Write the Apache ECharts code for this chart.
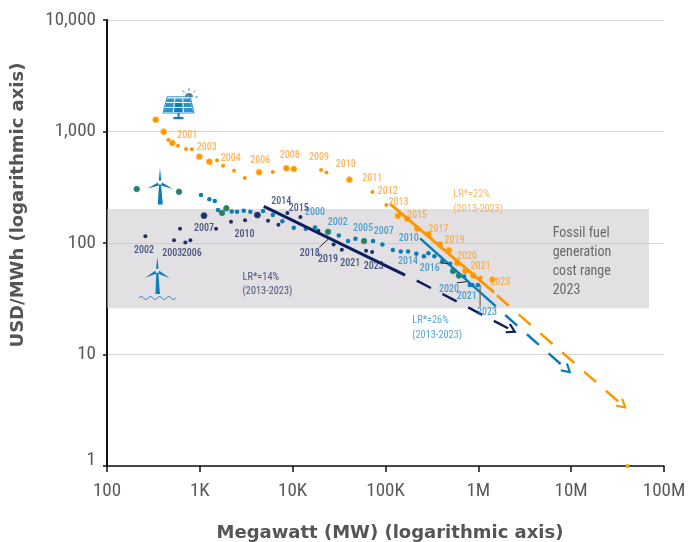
<!DOCTYPE html>
<html><head><meta charset="utf-8">
<style>html,body{margin:0;padding:0;background:#fff}#c{width:689px;height:542px}</style>
<script src="https://cdn.jsdelivr.net/npm/echarts@6/dist/echarts.min.js"></script>
</head><body><div id="c"></div>
<script>
const xTickLabels = {100:'100',1000:'1K',10000:'10K',100000:'100K',1000000:'1M',10000000:'10M',100000000:'100M'};
const yTickLabels = {1:'1',10:'10',100:'100',1000:'1,000',10000:'10,000'};
const fossilRange = [26, 202];

const solarLarge = [[335,1276],[408,995],[506,789],[988,594],[1265,536],[4345,431],[8551,468],[10280,461],[40830,370],[136000,175],[171000,165],[219000,134],[290000,120],[385000,97],[484000,86],[592000,66],[721000,56],[879000,51],[1419000,47]];
const solarSmall = [[458,839],[582,746],[710,697],[818,692],[1532,552],[1778,493],[2338,445],[3048,383],[6109,433],[20230,452],[23070,428],[72280,286],[102000,219],[1064000,49],[40450000,1]];
const onshore = [[1030,269],[1265,247],[1449,238],[1570,198],[2207,192],[2518,191],[2972,195],[3499,191],[4797,194],[6109,178],[7745,157],[10280,137],[13840,134],[17420,138],[31400,117],[39540,104],[47420,109],[73450,104],[92680,97],[120000,86.5],[146000,84],[175000,84],[215000,80],[259000,76],[290000,81],[336000,76],[410000,69],[497000,65],[703000,50],[809000,42],[863000,42],[988000,42]];
const onshoreGreen = [[209,305],[597,288],[1734,186],[1932,205],[24050,126],[58750,104],[535000,56],[617000,51]];
const offshoreLarge = [[1109,176],[4169,178]];
const offshoreSmall = [[259,115],[527,106],[612,134],[698,101],[791,106],[1496,134],[2168,155],[3069,160],[5433,158],[7015,146],[8770,186],[12100,171],[18920,129],[27610,97],[33880,87],[61800,85],[71780,83]];

const navySolid = [[4887,213],[162600,51.6]];
const navyDash = [[217000,46],[2300000,16.5]];
const orangeSolid = [[112000,224],[1479000,36]];
const orangeDash = [[1581000,34],[35900000,3.5]];
const blueSolid = [[236000,110],[1545000,27]];
const blueDash = [[1945000,22.6],[9100000,7.26]];
const connectors = [
  [[19400,91.5],[24050,108]],
  [[381000,66.5],[476000,65]],
  [[586000,44],[752000,45]]
];
const greyConnector = [[1045000,42],[1045000,27]];

const solarLabels = [['2001',733,930],['2003',1186,721],['2004',2153,575],['2006',4487,555],['2008',9310,615],['2009',19240,590],['2010',37330,501],['2011',71780,380],['2012',106000,292],['2013',138000,233],['2015',219000,175],['2017',372000,133],['2019',553000,106],['2020',757000,76],['2021',1054000,61],['2023',1718000,44]];
const onshoreLabels = [['2000',17420,186],['2002',30600,153],['2005',57400,136],['2007',95900,128],['2010',178000,110],['2014',175000,68.5],['2016',300000,58.5],['2020',484000,38.6],['2021',752000,32.8],['2023',1236000,23.6]];
const offshoreLabels = [['2002',250,86.5],['2003',506,81],['2006',818,80],['2007',1109,134],['2010',3020,120],['2014',7550,238],['2015',11640,202],['2018',15280,81],['2019',24050,70.5],['2021',41590,65],['2023',74820,62]];
const noteSolar = ['LR*=22%\n(2013-2023)',531000,233];
const noteOnshore = ['LR*=26%\n(2013-2023)',192000,17.2];
const noteOffshore = ['LR*=14%\n(2013-2023)',2851,42.7];
const noteFossil = ['Fossil fuel\ngeneration\ncost range\n2023',6240000,68];

const ORANGE='#ff9500', BLUE='#0a7cb8', NAVY='#0b1f5e', GREEN='#3a7d44';
const NARROW='Roboto,"Liberation Sans",sans-serif';
const STRETCH='condensed';
const chev2='path://M1.5 0 L10 5 L1.5 10 L0.3 8.4 L6.2 5 L0.3 1.6 Z';

function dots(data,color,size,border){
  return {type:'scatter',data,symbol:'circle',symbolSize:size,silent:true,z:4,
    itemStyle:{color,opacity:1,borderColor:border||color,borderWidth:border?1:0}};
}
function texts(list,color,size,opts){
  opts=opts||{};
  return {type:'scatter',symbol:'circle',symbolSize:1,silent:true,z:6,
    itemStyle:{color:'rgba(0,0,0,0)'},
    data:list.map(l=>({name:l[0],value:[l[1],l[2]]})),
    label:{show:true,position:opts.left?'right':'inside',distance:0,formatter:p=>p.name,color,
      fontFamily:NARROW,fontWeight:opts.weight||STRETCH,fontSize:size,lineHeight:opts.lh||13,align:opts.left?'left':'center'}};
}
function seg(data,color,width,dash,z){
  return {type:'line',data,symbol:'none',silent:true,z:z||5,animation:false,
    lineStyle:{color,width,type:dash?[16,13]:'solid',cap:'butt'}};
}
function dashArrow(data,color,width,rot){
  const s=seg(data,color,width,true);
  s.data=[{value:data[0],symbol:'none'},{value:data[1],symbol:chev2,symbolSize:11,symbolRotate:rot,symbolKeepAspect:true,itemStyle:{color,opacity:1}}];
  s.showSymbol=true; s.showAllSymbol=true; s.symbol='none';
  return s;
}

const YEAR={weight:'500 condensed'};
const series=[
  {type:'scatter',data:[],silent:true,z:1,markArea:{silent:true,itemStyle:{color:'rgba(200,196,200,0.52)'},
    data:[[{coord:[100,fossilRange[1]]},{coord:[69000000,fossilRange[0]]}]]}},
  dots(solarLarge,ORANGE,6,'#ffc04d'),
  dots(solarSmall,ORANGE,4),
  dots(onshore,BLUE,4.5),
  dots(onshoreGreen,GREEN,5.5,'#1f8fa8'),
  dots(offshoreSmall,'#1c2f66',4),
  dots(offshoreLarge,'#1c2f66',6,'#3a5590'),
  seg(navySolid,NAVY,3),
  dashArrow(navyDash,NAVY,2.5,-27),
  seg(orangeSolid,ORANGE,3),
  dashArrow(orangeDash,ORANGE,2.5,-41),
  seg(blueSolid,BLUE,2.5),
  dashArrow(blueDash,BLUE,2.5,-42),
  ...connectors.map(c=>seg(c,'#222',1)),
  seg(greyConnector,'#666',1.2),
  texts(solarLabels,'#f9a43a',10,YEAR),
  texts(onshoreLabels,'#2a8fc6',10,YEAR),
  texts(offshoreLabels,'#1f2f66',10,YEAR),
  texts([noteSolar],'#f9a43a',10.3,{left:true,lh:15}),
  texts([noteOnshore],'#2a8fc6',10.3,{left:true,lh:15}),
  texts([noteOffshore],'#1f2f66',10.3,{left:true,lh:14}),
  texts([noteFossil],'#4a4a4a',14,{left:true,lh:19})
];

const W='#0a7cb8';
function turbine(hx,hy,tx,lx,ly,rx,ry,bx,by,bw){
  return [
    {type:'polygon',z:10,shape:{points:[[hx-1.2,hy-3],[tx[0],tx[1]],[hx+1.2,hy-3]]},style:{fill:W}},
    {type:'polygon',z:10,shape:{points:[[hx-2,hy-1],[lx,ly],[hx-1,hy+2]]},style:{fill:W}},
    {type:'polygon',z:10,shape:{points:[[hx+2,hy-1],[rx,ry],[hx+1,hy+2]]},style:{fill:W}},
    {type:'polygon',z:10,shape:{points:[[hx-1,hy+1],[hx+1,hy+1],[bx+bw/2,by],[bx-bw/2,by]]},style:{fill:W}}
  ];
}
const solarCells=[];
const rows=[[98.5,102],[103,107],[108,112]];
const cols=[[0,.31],[.35,.65],[.69,1]];
rows.forEach((r,i)=>cols.forEach((c,j)=>{
  const lt=167.7-(r[0]-97.3)*.28, rt=190+(r[0]-97.3)*.21, lb=167.7-(r[1]-97.3)*.28, rb=190+(r[1]-97.3)*.21;
  solarCells.push({type:'polygon',z:10,shape:{points:[[lt+(rt-lt)*c[0],r[0]],[lt+(rt-lt)*c[1],r[0]],[lb+(rb-lb)*c[1],r[1]],[lb+(rb-lb)*c[0],r[1]]]},
    style:{fill:(j===1&&i>0)?'#0a7cb8':'#2f93c9'}});
}));
const wavePts=[[139,298],[141.3,296.5],[143.6,298],[145.9,299.5],[148.2,298],[150.5,296.5],[152.8,298],[155.1,299.5],[157.4,298],[159.7,296.5],[162,298],[164.3,299.5],[166.6,298],[168.9,296.5],[171.2,298],[173.5,299.5],[175.8,298]];
const graphic=[
  {type:'polygon',z:9,shape:{points:[[167.2,96.8],[190.2,96.8],[194,113],[163,113]]},style:{fill:'#fff',stroke:'#2f93c9',lineWidth:1}},
  ...solarCells,
  {type:'rect',z:10,shape:{x:177.5,y:113,width:2,height:4},style:{fill:W}},
  {type:'rect',z:10,shape:{x:173.5,y:117,width:10,height:2.2},style:{fill:W}},
  {type:'sector',z:8,shape:{cx:189,cy:97,r:4,r0:0,startAngle:Math.PI,endAngle:2*Math.PI},style:{fill:'#5f7f96'}},
  {type:'polyline',z:10,shape:{points:[[189,88],[189,91]]},style:{stroke:'#3a93c4',lineWidth:1}},
  {type:'polyline',z:10,shape:{points:[[182.5,90.5],[184.5,92.5]]},style:{stroke:'#3a93c4',lineWidth:1}},
  {type:'polyline',z:10,shape:{points:[[195.5,90.5],[193.5,92.5]]},style:{stroke:'#3a93c4',lineWidth:1}},
  {type:'polyline',z:10,shape:{points:[[198,97],[195,97]]},style:{stroke:'#3a93c4',lineWidth:1}},
  ...turbine(160,183.5,[160,168],147.5,188.5,173,189,160.3,204.5,5),
  ...turbine(157.3,271.7,[157.3,257],145,277.7,170,278.3,157.7,294,4.5),
  {type:'polyline',z:10,shape:{points:wavePts,smooth:0.4},style:{fill:'none',stroke:W,lineWidth:1}}
];

const chart=echarts.init(document.getElementById('c'),null,{renderer:'canvas'});
chart.setOption({
  animation:false,
  backgroundColor:'#fff',
  grid:{left:107,right:25,top:20,bottom:76,containLabel:false,outerBoundsMode:'none'},
  xAxis:{type:'log',logBase:10,min:100,max:100000000,
    name:'Megawatt (MW) (logarithmic axis)',nameLocation:'middle',nameGap:58,
    nameTextStyle:{fontFamily:'"DejaVu Sans",sans-serif',fontWeight:'bold',fontSize:18,color:'#555',padding:[0,0,0,9]},
    axisLine:{show:true,onZero:false,lineStyle:{color:'#111',width:1.5}},
    axisTick:{show:true,length:6,lineStyle:{color:'#111',width:1.5}},
    minorTick:{show:false},splitLine:{show:false},
    axisLabel:{margin:16,color:'#5a5a5a',fontFamily:NARROW,fontWeight:STRETCH,fontSize:19,showMinLabel:true,showMaxLabel:true,hideOverlap:false,
      formatter:v=>xTickLabels[Math.round(v)]||''}},
  yAxis:{type:'log',logBase:10,min:1,max:10000,
    name:'USD/MWh (logarithmic axis)',nameLocation:'middle',nameGap:80,nameRotate:90,
    nameTextStyle:{fontFamily:'"DejaVu Sans",sans-serif',fontWeight:'bold',fontSize:18,color:'#555',padding:[0,0,0,76]},
    axisLine:{show:true,onZero:false,lineStyle:{color:'#111',width:2}},
    axisTick:{show:true,length:4,lineStyle:{color:'#111',width:1.5}},
    minorTick:{show:false},
    splitLine:{show:true,lineStyle:{color:'#d6d6d6',width:1}},
    axisLabel:{margin:11,color:'#5a5a5a',fontFamily:NARROW,fontWeight:STRETCH,fontSize:19,showMinLabel:true,showMaxLabel:true,hideOverlap:false,
      formatter:v=>{const k=Math.round(v);return k===1?'{one|1}':(yTickLabels[k]||'');},
      rich:{one:{fontFamily:NARROW,fontWeight:STRETCH,fontSize:19,color:'#5a5a5a',padding:[0,0,12,0]}}}},
  series,
  graphic
});
</script></body></html>
